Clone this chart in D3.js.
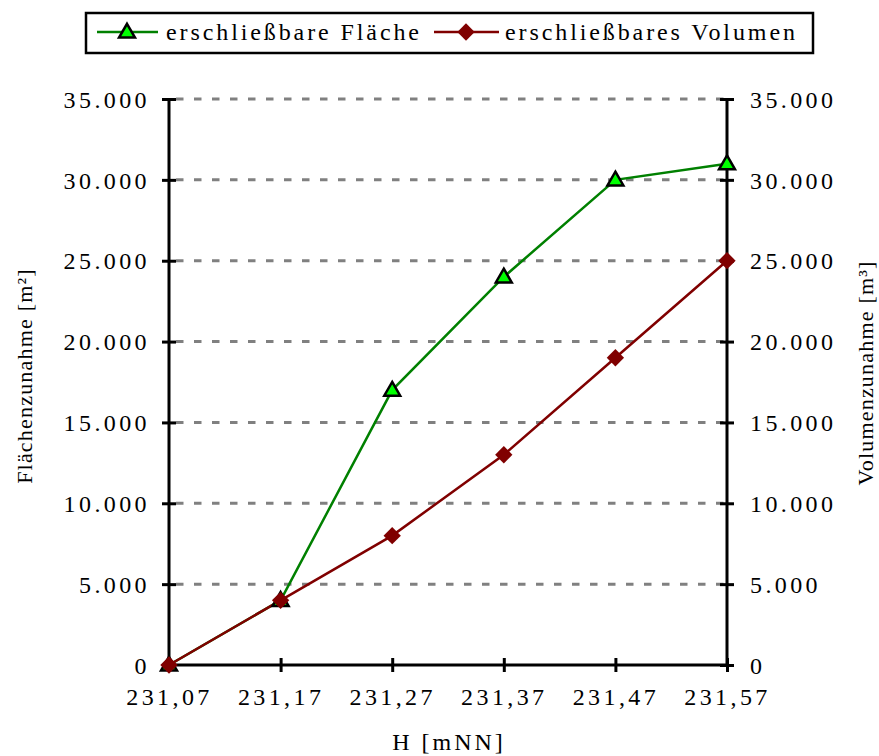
<!DOCTYPE html>
<html><head><meta charset="utf-8">
<script src="https://cdn.jsdelivr.net/npm/d3@7"></script>
<style>body{margin:0;background:#fff}svg{display:block}text{font-family:"Liberation Serif","Times New Roman",serif;fill:#000}</style>
</head><body>
<script>
const categories = ["231,07","231,17","231,27","231,37","231,47","231,57"];
const flaeche = [0, 4000, 17000, 24000, 30000, 31000];
const volumen = [0, 4000, 8000, 13000, 19000, 25000];
const yTicks = [0,5000,10000,15000,20000,25000,30000,35000];
const seriesNames = ["erschließbare Fläche","erschließbares Volumen"];

const W=879,H=756;
const svg=d3.select("body").append("svg").attr("width",W).attr("height",H);
const x=d3.scalePoint().domain(categories).range([169,727]);
const y=d3.scaleLinear().domain([0,35000]).range([665,99]);
const fmt=v=>v===0?"0":d3.format(",")(v).replace(/,/g,".");

// grid
svg.append("g").selectAll("line").data(yTicks.filter(d=>d>0)).join("line")
 .attr("x1",176).attr("x2",727).attr("y1",d=>y(d)).attr("y2",d=>y(d))
 .attr("stroke","#808080").attr("stroke-width",3).attr("stroke-dasharray","7.5,10.5");

// axes
const axL=svg.append("g").attr("transform","translate(169,0)")
 .call(d3.axisLeft(y).tickValues(yTicks).tickFormat(fmt).tickSize(7).tickPadding(12));
const axR=svg.append("g").attr("transform","translate(727,0)")
 .call(d3.axisRight(y).tickValues(yTicks).tickFormat(fmt).tickSize(7).tickPadding(16));
const axB=svg.append("g").attr("transform","translate(0,665)")
 .call(d3.axisBottom(x).tickSize(7).tickPadding(16));
[axL,axR,axB].forEach(g=>{
  g.attr("font-size",null).attr("font-family",null);
  g.select(".domain").attr("stroke","#000").attr("stroke-width",3);
  g.selectAll(".tick line").attr("stroke","#000").attr("stroke-width",3);
  g.selectAll(".tick text").style("font-size","24px").attr("letter-spacing","3.4px")
   .style("font-family","'Liberation Serif',serif").attr("fill","#000");
});
axL.selectAll(".tick text").attr("dy","0.34em");
axR.selectAll(".tick text").attr("dy","0.34em");
// cross ticks (extend inward)
axL.selectAll(".tick").append("line").attr("x1",0).attr("x2",7).attr("stroke","#000").attr("stroke-width",3);
axR.selectAll(".tick").append("line").attr("x1",0).attr("x2",-7).attr("stroke","#000").attr("stroke-width",3);
axB.selectAll(".tick").append("line").attr("y1",0).attr("y2",-7).attr("stroke","#000").attr("stroke-width",3);
axL.select(".domain").attr("d","M0,"+y(35000)+"V"+y(0));
axR.select(".domain").attr("d","M0,"+y(35000)+"V"+y(0));
axB.select(".domain").attr("d","M169,0H727");

// lines
const line=d3.line().x((d,i)=>x(categories[i])).y(d=>y(d));
svg.append("path").datum(flaeche).attr("d",line).attr("fill","none").attr("stroke","#008000").attr("stroke-width",2.5);
svg.append("path").datum(volumen).attr("d",line).attr("fill","none").attr("stroke","#800000").attr("stroke-width",2.5);

const tri=d3.symbol().type(d3.symbolTriangle).size(110);
const dia=d3.symbol().type(d3.symbolSquare).size(150);
svg.append("g").selectAll("path").data(flaeche).join("path")
 .attr("d",tri).attr("transform",(d,i)=>`translate(${x(categories[i])},${y(d)+1})`)
 .attr("fill","#00ff00").attr("stroke","#000").attr("stroke-width",2.5);
svg.append("g").selectAll("path").data(volumen).join("path")
 .attr("d",dia).attr("transform",(d,i)=>`translate(${x(categories[i])},${y(d)}) rotate(45)`)
 .attr("fill","#800000");

// axis titles
svg.append("text").attr("transform","translate(32,376) rotate(-90)").attr("text-anchor","middle")
 .attr("font-size",22).attr("letter-spacing","1.2px").text("Flächenzunahme [m²]");
svg.append("text").attr("transform","translate(873,373) rotate(-90)").attr("text-anchor","middle")
 .attr("font-size",22).attr("letter-spacing","1.2px").text("Volumenzunahme [m³]");
svg.append("text").attr("x",449).attr("y",750).attr("text-anchor","middle")
 .attr("font-size",24).attr("letter-spacing","3px").text("H [mNN]");

// legend
const lg=svg.append("g");
lg.append("rect").attr("x",86).attr("y",13).attr("width",727).attr("height",40).attr("fill","#fff").attr("stroke","#000").attr("stroke-width",2.5);
lg.append("line").attr("x1",97).attr("x2",158).attr("y1",32).attr("y2",32).attr("stroke","#008000").attr("stroke-width",2.5);
lg.append("path").attr("d",tri).attr("transform","translate(127,33)").attr("fill","#00ff00").attr("stroke","#000").attr("stroke-width",2.5);
lg.append("text").attr("x",166).attr("y",40).attr("font-size",24).attr("letter-spacing","2.9px").text(seriesNames[0]);
lg.append("line").attr("x1",434).attr("x2",499).attr("y1",32).attr("y2",32).attr("stroke","#800000").attr("stroke-width",2.5);
lg.append("path").attr("d",dia).attr("transform","translate(466,32) rotate(45)").attr("fill","#800000");
lg.append("text").attr("x",505).attr("y",40).attr("font-size",24).attr("letter-spacing","2.9px").text(seriesNames[1]);
</script>
</body></html>
